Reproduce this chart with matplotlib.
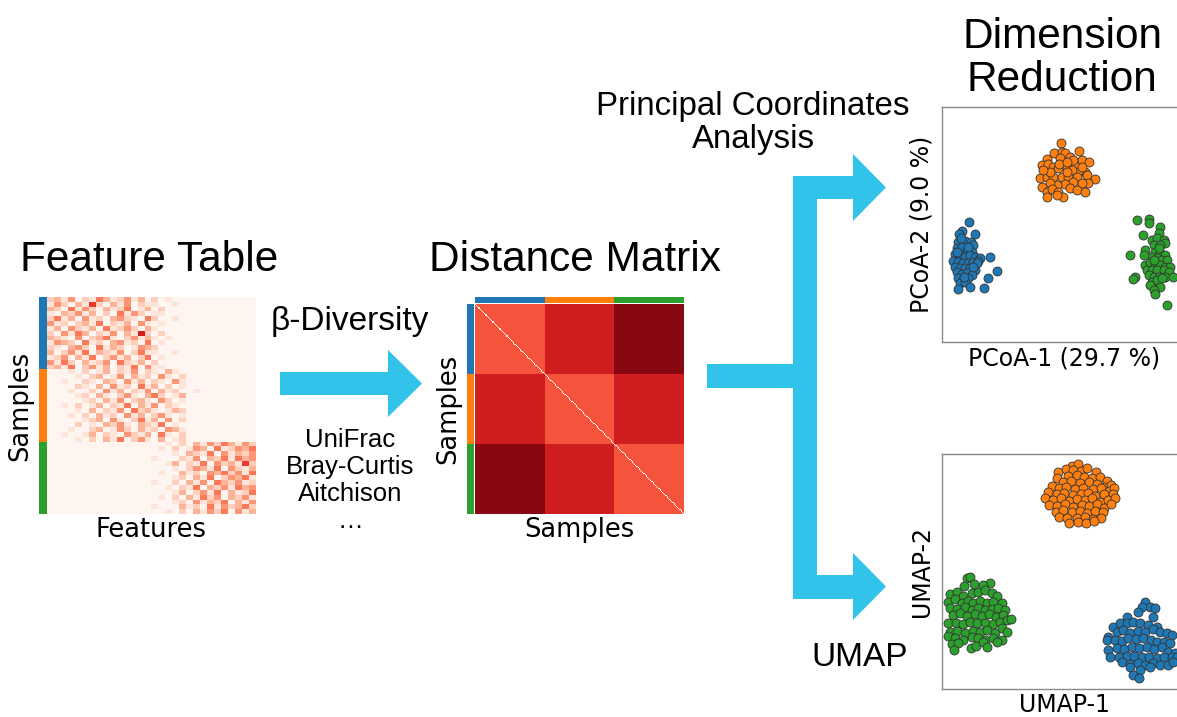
import numpy as np
import matplotlib
matplotlib.use("Agg")
import matplotlib.pyplot as plt
from matplotlib.patches import Polygon
from matplotlib.colors import ListedColormap

# ---------------- data ----------------
group_colors = ["#1f77b4", "#ff7f0e", "#2ca02c"]

# feature table (rows = samples, cols = features), abundance level 0..9
ft_blue = [
    "231402153124130201000000000000",
    "142031720314021100100000000000",
    "320514203125013020000000000000",
    "103241302051420110000000000000",
    "251304120342105200100000000000",
    "412023150213041010000000000000",
    "130421305124203100000000000000",
    "204153021403182020000000000000",
    "321040235102413101000000000000",
    "143205120341205010000000000000",
    "210342051320143200000000000000",
    "302415032140251100100000000000",
    "124031502413025010000000000000",
    "415203124052130200000000000000",
    "231502413021504110000000000000",
]
ft_orange = [
    "000102013021402103100000000000",
    "000010230140312041020000000000",
    "001002103204130210410000000000",
    "000021030412051302010000000000",
    "000100204130214031200100000000",
    "000012031024103520130000000000",
    "000001203140231042010000000000",
    "001020130215031402100000000000",
    "000010302140523101320000000000",
    "000102031204130241010000000000",
    "000001230410251304020000000000",
    "000020103241032150100000000000",
    "000100230142031204310000000000",
    "001001302104213051020000000000",
    "000010203150241030120000000000",
]
ft_green = [
    "000000000000000001020314253142",
    "000000000000000010201430512435",
    "000000000000000000103215041324",
    "000000000000000100021403251534",
    "000000000000000001302150423172",
    "000000000000000000102431504213",
    "000000000000000010031204352415",
    "000000000000000000120315024351",
    "000000000000000100203140532412",
    "000000000000000001021503241534",
    "000000000000000000130241503125",
    "000000000000000010203152403241",
    "000000000000000000120413250314",
    "000000000000000100031205142352",
    "000000000000000001020314250413",
]

# distance matrix: mean distance between groups (0..1), samples per group
dm_block = [[0.56, 0.73, 0.93],
            [0.73, 0.56, 0.73],
            [0.93, 0.73, 0.56]]
dm_group_size = 60

# PCoA coordinates
pcoa_blue = [(27,120),(20,111),(17,108),(33,108),(16,100),(23,101),(29,100),(31,97),
             (15,94),(20,95),(25,92),(30,90),(13,88),(18,87),(23,85),(28,87),(33,85),
             (38,84),(48,85),(11,81),(16,80),(21,79),(26,79),(31,80),(36,81),(13,75),
             (18,74),(23,74),(28,74),(33,72),(15,70),(20,68),(25,69),(30,67),(55,71),
             (16,64),(21,62),(26,64),(46,64),(18,59),(23,60),(28,55),(16,53),(42,54),
             (15,90),(26,95),(35,79),(19,104),(22,65),(31,75)]
pcoa_orange = [(119,199),(112,189),(120,190),(123,189),(128,185),(137,191),(118,184),
               (105,183),(100,177),(106,178),(111,175),(116,174),(125,175),(133,177),
               (140,182),(147,180),(143,170),(136,170),(130,172),(98,164),(105,165),
               (111,165),(120,165),(126,165),(135,165),(145,167),(153,163),(146,159),
               (140,159),(131,160),(123,158),(115,157),(108,159),(100,155),(105,150),
               (110,153),(116,150),(121,145),(128,154),(135,152),(143,150),(105,145),
               (115,147),(125,170),(117,178),(108,170),(101,172),(140,175),(131,182),
               (125,180)]
pcoa_green = [(195,122),(207,123),(207,119),(218,115),(201,107),(217,109),(210,102),
              (215,104),(222,102),(223,99),(212,97),(218,97),(203,92),(188,87),(213,90),
              (218,89),(223,87),(210,85),(215,84),(220,82),(225,82),(203,77),(208,79),
              (213,77),(218,77),(223,75),(228,75),(205,72),(210,72),(215,72),(222,72),
              (227,70),(207,67),(212,65),(217,65),(223,65),(231,65),(193,65),(191,63),
              (210,60),(215,62),(220,64),(208,57),(218,55),(212,52),(213,48),(225,37),
              (202,87),(217,94),(212,82)]

# UMAP coordinates
umap_orange = [(130,223),(136,225),(116,217),(124,220),(131,219),(139,218),(145,221),
               (154,217),(115,211),(126,213),(135,214),(142,212),(150,211),(158,212),
               (165,208),(121,207),(129,208),(138,206),(147,207),(155,205),(162,202),
               (169,204),(110,203),(117,201),(124,202),(133,200),(141,201),(151,200),
               (159,201),(167,198),(172,201),(106,197),(115,195),(122,196),(131,194),
               (139,195),(146,196),(153,193),(162,195),(171,195),(103,191),(111,189),
               (119,191),(127,188),(135,190),(143,189),(150,191),(158,187),(166,189),
               (173,191),(107,184),(115,183),(123,185),(131,182),(140,184),(147,183),
               (155,185),(162,181),(169,185),(114,177),(121,179),(130,177),(138,178),
               (145,176),(153,178),(161,177),(117,172),(125,171),(135,171),(143,172),
               (151,170),(159,171),(127,166),(136,167),(144,166),(152,168)]
umap_green = [(25,111),(28,112),(48,106),(22,103),(32,105),(41,104),(8,95),(15,97),
              (21,93),(30,96),(36,97),(43,99),(50,96),(55,93),(6,87),(13,90),(20,86),
              (26,88),(31,86),(38,88),(45,86),(51,87),(60,86),(8,81),(15,80),(23,82),
              (30,79),(36,81),(43,79),(50,80),(56,81),(63,79),(11,74),(18,76),(25,73),
              (33,75),(40,73),(47,75),(54,72),(61,74),(6,66),(14,66),(21,65),(28,67),
              (35,66),(43,66),(51,65),(58,67),(65,69),(69,70),(8,57),(15,58),(23,56),
              (31,58),(38,57),(45,59),(53,56),(60,61),(65,57),(6,53),(13,51),(21,49),
              (30,52),(36,51),(43,49),(51,51),(60,49),(10,45),(16,46),(29,41),(34,43),
              (41,47),(45,42),(55,47),(12,39)]
umap_blue = [(203,87),(208,82),(213,81),(200,82),(196,77),(211,72),(185,72),(171,62),
             (178,66),(185,66),(191,67),(198,66),(206,64),(215,62),(166,52),(175,57),
             (181,59),(188,56),(196,58),(203,57),(211,60),(218,57),(225,56),(230,54),
             (165,49),(173,49),(180,48),(186,51),(194,50),(201,51),(209,49),(215,47),
             (222,47),(228,46),(166,39),(175,41),(182,40),(190,42),(197,41),(205,42),
             (212,40),(220,42),(226,37),(233,36),(168,32),(177,32),(185,33),(192,33),
             (200,32),(207,32),(215,31),(222,32),(230,32),(235,32),(180,27),(188,25),
             (196,26),(203,24),(211,26),(218,24),(226,24),(231,27),(188,22),(198,19),
             (208,22),(191,14),(197,11)]

# ---------------- figure ----------------
W, H = 1177, 717
fig = plt.figure(figsize=(W / 100, H / 100), dpi=100)
TITLE_FONT = ["Liberation Sans", "DejaVu Sans"]
LABEL_FONT = ["DejaVu Sans"]
ARROW_C = "#32c3eb"


def add_ax(x0, y0, x1, y1, **kw):
    return fig.add_axes([x0 / W, 1 - y1 / H, (x1 - x0) / W, (y1 - y0) / H], **kw)


def clean(ax, spines=False):
    ax.set_xticks([])
    ax.set_yticks([])
    for s in ax.spines.values():
        s.set_visible(spines)


# overlay for arrows and free text (pixel units)
ov = add_ax(0, 0, W, H)
ov.set_xlim(0, W)
ov.set_ylim(H, 0)
ov.axis("off")

arrow1 = [(280, 372), (388, 372), (388, 350), (422, 383.5), (388, 417), (388, 395), (280, 395)]
branch = [(793, 176), (853, 176), (853, 154), (886, 187.5), (853, 221), (853, 199),
          (817, 199), (817, 575), (853, 575), (853, 553), (886, 586.5), (853, 620),
          (853, 599), (793, 599), (793, 388), (707, 388), (707, 364), (793, 364)]
for pts in (arrow1, branch):
    ov.add_patch(Polygon(pts, closed=True, facecolor=ARROW_C, edgecolor="none"))

def t(x, y, s, size, fam=TITLE_FONT):
    ov.text(x, y, s, ha="center", va="baseline", fontsize=size, family=fam)

t(149, 271, "Feature Table", 30.5)
t(575, 271, "Distance Matrix", 30.5)
t(1062, 48, "Dimension", 30.5)
t(1062, 91, "Reduction", 30.5)
t(753, 115, "Principal Coordinates", 23.8)
t(753, 148, "Analysis", 23.8)
t(350, 330, "β-Diversity", 24)
t(350, 447, "UniFrac", 18.5)
t(350, 474, "Bray-Curtis", 18.5)
t(350, 501, "Aitchison", 18.5)
t(350, 528, "…", 18.5)
t(860, 666, "UMAP", 24)

# ---- feature table ----
ft_rows = ft_blue + ft_orange + ft_green
ft = np.array([[int(c) for c in r] for r in ft_rows], dtype=float)
ft_groups = np.repeat(np.arange(3), [len(ft_blue), len(ft_orange), len(ft_green)])
gcmap = ListedColormap(group_colors)

ax_ft = add_ax(47, 297, 256, 514)
ax_ft.imshow(ft, cmap="Reds", vmin=0, vmax=11, aspect="auto", interpolation="nearest")
clean(ax_ft)
ax_ft.set_xlabel("Features", fontsize=18.5, family=LABEL_FONT, labelpad=2)

ax_ftb = add_ax(39, 297, 46.3, 514)
ax_ftb.imshow(ft_groups[:, None], cmap=gcmap, vmin=0, vmax=2, aspect="auto", interpolation="nearest")
clean(ax_ftb)
ax_ftb.set_ylabel("Samples", fontsize=18.5, family=LABEL_FONT, labelpad=4)

# ---- distance matrix ----
dm = np.kron(np.array(dm_block), np.ones((dm_group_size, dm_group_size)))
np.fill_diagonal(dm, 0.0)
dm_groups = np.repeat(np.arange(3), dm_group_size)

ax_dm = add_ax(475, 304, 684, 514)
ax_dm.imshow(dm, cmap="Reds", vmin=0, vmax=1, aspect="auto", interpolation="nearest")
clean(ax_dm)
ax_dm.set_xlabel("Samples", fontsize=18.5, family=LABEL_FONT, labelpad=2)

ax_dmt = add_ax(475, 297, 684, 303)
ax_dmt.imshow(dm_groups[None, :], cmap=gcmap, vmin=0, vmax=2, aspect="auto", interpolation="nearest")
clean(ax_dmt)

ax_dml = add_ax(467, 304, 474, 514)
ax_dml.imshow(dm_groups[:, None], cmap=gcmap, vmin=0, vmax=2, aspect="auto", interpolation="nearest")
clean(ax_dml)
ax_dml.set_ylabel("Samples", fontsize=18.5, family=LABEL_FONT, labelpad=4)

# ---- scatter plots ----
def scatter_panel(box, data, xlabel, ylabel):
    ax = add_ax(*box)
    for pts, c in zip(data, group_colors):
        arr = np.array(pts, dtype=float)
        ax.scatter(arr[:, 0], arr[:, 1], s=42, c=c, edgecolors="#333333", linewidths=0.6, zorder=3)
    ax.set_xlim(0, box[2] - box[0])
    ax.set_ylim(0, box[3] - box[1])
    ax.set_xticks([])
    ax.set_yticks([])
    for s in ax.spines.values():
        s.set_color("#8a8a8a")
        s.set_linewidth(1.0)
    ax.set_xlabel(xlabel, fontsize=17, family=LABEL_FONT, labelpad=3)
    ax.set_ylabel(ylabel, fontsize=17, family=LABEL_FONT, labelpad=6)
    return ax

scatter_panel((942, 107, 1186, 342), [pcoa_blue, pcoa_orange, pcoa_green],
              "PCoA-1 (29.7 %)", "PCoA-2 (9.0 %)")
scatter_panel((942, 454, 1186, 689), [umap_blue, umap_orange, umap_green],
              "UMAP-1", "UMAP-2")

fig.savefig("out.png", dpi=100)
